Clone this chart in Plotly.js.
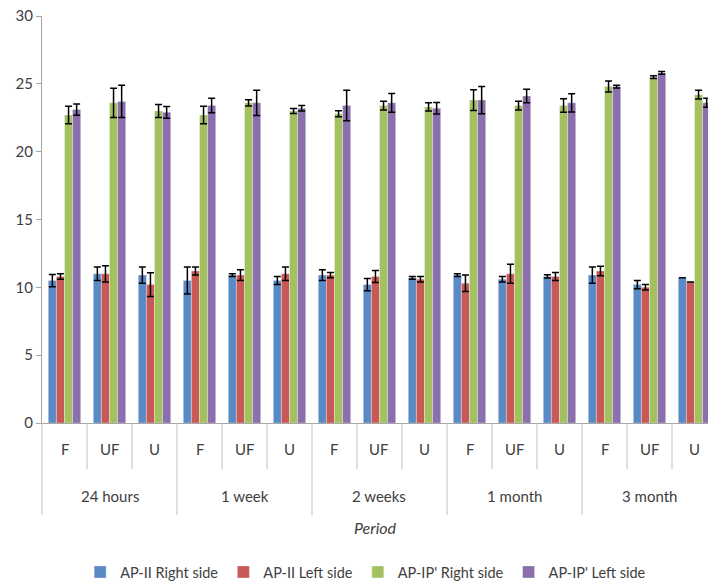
<!DOCTYPE html>
<html>
<head>
<meta charset="utf-8">
<script src="https://cdn.plot.ly/plotly-3.0.1.min.js"></script>
<style>html,body{margin:0;padding:0;background:#fff;}#chart{width:708px;height:584px;}</style>
</head>
<body>
<div id="chart"></div>
<script>
const periods = ['24 hours', '1 week', '2 weeks', '1 month', '3 month'];
const subcats = ['F', 'UF', 'U'];
const seriesNames = ['AP-II Right side', 'AP-II Left side', "AP-IP' Right side", "AP-IP' Left side"];

const apIIRight = [10.5, 11.0, 10.9, 10.5, 10.9, 10.5, 10.9, 10.2, 10.7, 10.9, 10.6, 10.8, 10.9, 10.2, 10.7];
const apIILeft  = [10.8, 11.0, 10.2, 11.2, 10.9, 11.0, 10.9, 10.8, 10.6, 10.3, 11.0, 10.8, 11.2, 10.0, 10.4];
const apIPRight = [22.7, 23.6, 23.0, 22.7, 23.6, 23.0, 22.8, 23.4, 23.3, 23.8, 23.4, 23.4, 24.8, 25.5, 24.2];
const apIPLeft  = [23.1, 23.7, 22.9, 23.4, 23.6, 23.2, 23.4, 23.6, 23.2, 23.8, 24.1, 23.6, 24.8, 25.8, 23.6];

const errIIRight = [0.45, 0.5, 0.6, 1.0, 0.1, 0.3, 0.4, 0.45, 0.1, 0.1, 0.2, 0.12, 0.6, 0.3, null];
const errIILeft  = [0.2, 0.6, 0.88, 0.3, 0.4, 0.5, 0.2, 0.45, 0.2, 0.6, 0.7, 0.3, 0.35, 0.2, null];
const errIPRight = [0.65, 1.08, 0.48, 0.65, 0.23, 0.18, 0.22, 0.32, 0.3, 0.77, 0.32, 0.5, 0.4, 0.1, 0.32];
const errIPLeft  = [0.42, 1.19, 0.43, 0.53, 0.93, 0.2, 1.12, 0.69, 0.42, 1.0, 0.5, 0.67, 0.1, 0.1, 0.33];

const colors = ['#598AC5', '#C95956', '#A4C162', '#8A6FAC'];
const values = [apIIRight, apIILeft, apIPRight, apIPLeft];
const errors = [errIIRight, errIILeft, errIPRight, errIPLeft];

const xOuter = [], xInner = [];
periods.forEach(p => subcats.forEach(s => { xOuter.push(p); xInner.push(s); }));

const traces = values.map((v, i) => ({
  type: 'bar',
  name: seriesNames[i],
  x: [xOuter, xInner],
  y: v,
  marker: {color: colors[i], line: {color: 'rgba(255,255,255,0.6)', width: 0.5}},
  error_y: {type: 'data', array: errors[i], visible: true, color: '#000000', thickness: 1.5, width: 3.5}
}));

// geometry helpers (axis range and plot-area pixels)
const X0 = -0.5, X1 = 14.3;
const PLOT_BOTTOM = 423, PLOT_H = 407;
const xp = v => (v - X0) / (X1 - X0);
const yp = px => (PLOT_BOTTOM - px) / PLOT_H;

const font = 'Lato, "Open Sans", Arial, sans-serif';
const textColor = '#404040';

const shapes = [];
const annotations = [];
const nSub = subcats.length;
const nAll = periods.length * nSub;
// left boundary line under the axis
shapes.push({type: 'line', xref: 'paper', yref: 'paper', x0: 0, x1: 0, y0: 0, y1: yp(515),
             line: {color: '#BFBFBF', width: 1}});
for (let i = 0; i < nAll; i++) {
  const isGroupEnd = (i + 1) % nSub === 0;
  const bx = xp(i + 0.5);
  if (bx <= 1) {
    shapes.push({type: 'line', xref: 'paper', yref: 'paper', x0: bx, x1: bx, y0: 0,
                 y1: isGroupEnd ? yp(515) : yp(469), line: {color: '#BFBFBF', width: 1}});
  }
  annotations.push({xref: 'paper', yref: 'paper', x: xp(i), y: yp(449), text: xInner[i],
                    showarrow: false, xanchor: 'center', yanchor: 'middle',
                    font: {family: font, size: 15, color: textColor}});
}
periods.forEach((p, g) => {
  annotations.push({xref: 'paper', yref: 'paper', x: xp(g * nSub + (nSub - 1) / 2), y: yp(496), text: p,
                    showarrow: false, xanchor: 'center', yanchor: 'middle',
                    font: {family: font, size: 15, color: textColor}});
});

const layout = {
  width: 708, height: 584,
  margin: {l: 42, r: 0, t: 16, b: 161, autoexpand: false},
  paper_bgcolor: '#ffffff', plot_bgcolor: '#ffffff',
  font: {family: font, size: 14, color: textColor},
  barmode: 'group', bargap: 0.28, bargroupgap: 0,
  showlegend: true,
  legend: {orientation: 'h', x: 0.486, xanchor: 'center', y: yp(572), yanchor: 'middle',
           font: {family: font, size: 14.5, color: textColor}, itemwidth: 30},
  xaxis: {
    type: 'multicategory', range: [X0, X1],
    showline: true, linecolor: '#A6A6A6', linewidth: 1,
    ticks: '', showticklabels: false, showdividers: false,
    showgrid: false, zeroline: false,
    title: {text: 'Period', font: {family: font, size: 16, color: textColor, style: 'italic'}, standoff: 99}
  },
  yaxis: {
    range: [0, 30], dtick: 5, tick0: 0,
    showline: true, linecolor: '#A6A6A6', linewidth: 1,
    ticks: 'outside', ticklen: 5, tickcolor: '#A6A6A6',
    showgrid: false, zeroline: false,
    tickfont: {family: font, size: 15, color: textColor}
  },
  shapes: shapes,
  annotations: annotations
};

Plotly.newPlot('chart', traces, layout, {displayModeBar: false, staticPlot: true});
</script>
</body>
</html>
